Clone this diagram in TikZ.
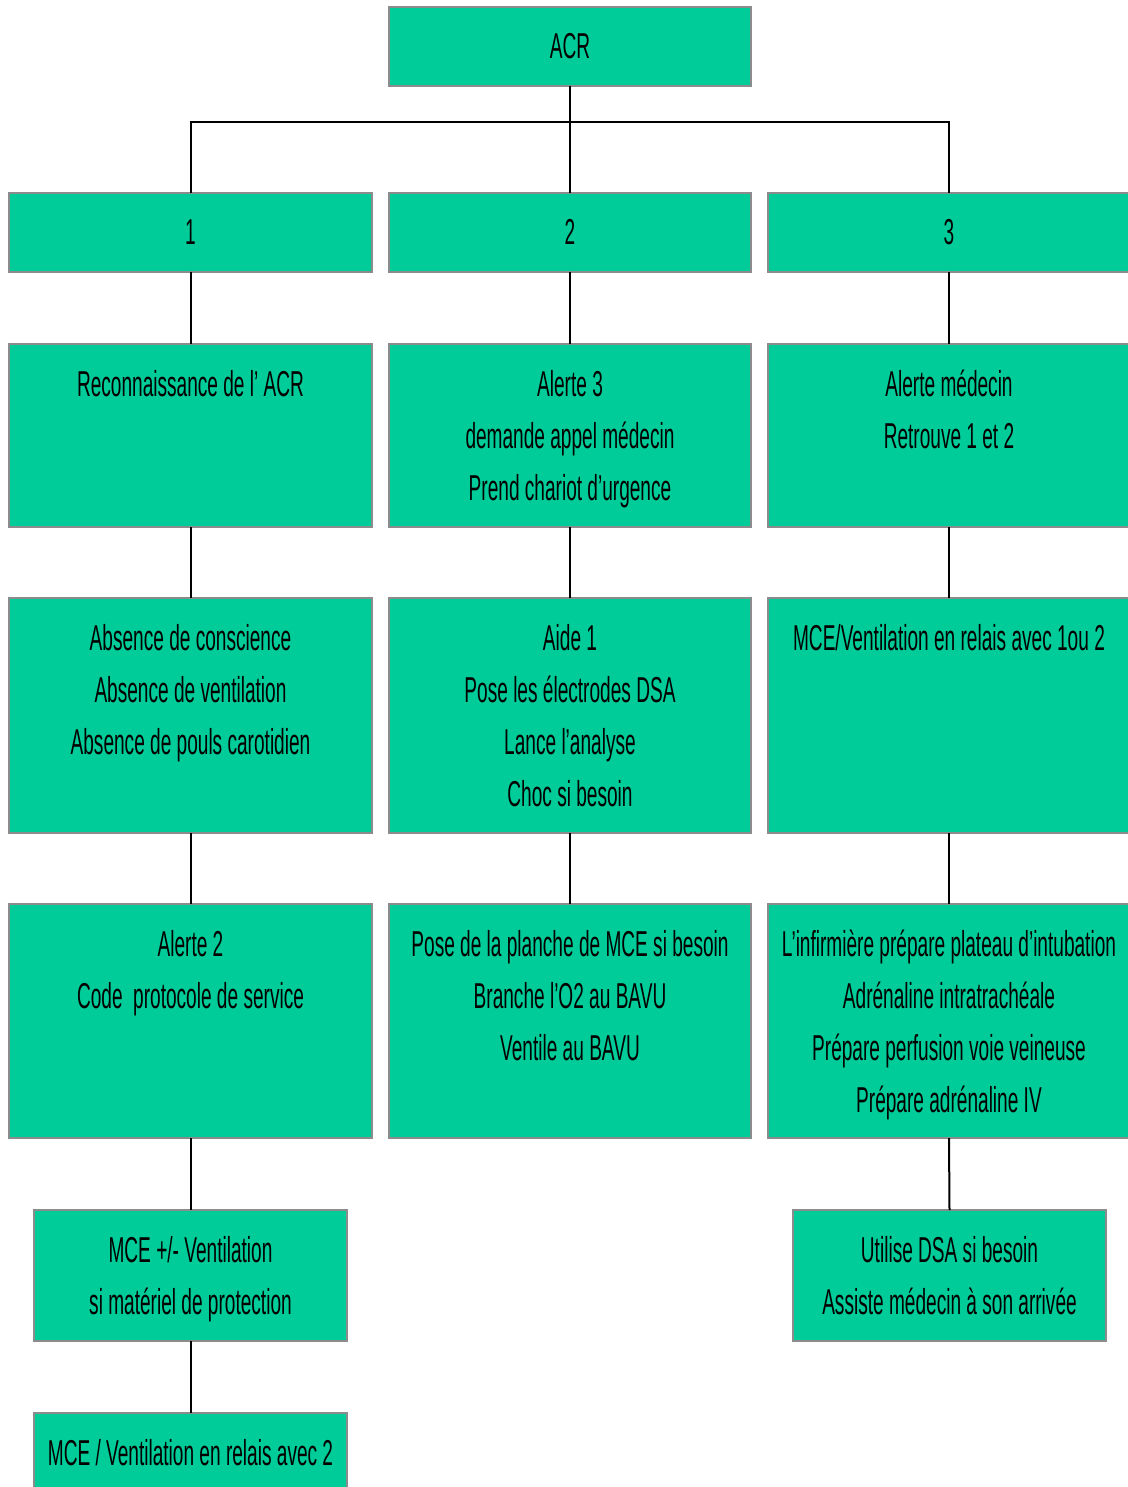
\documentclass[tikz,border=0pt]{standalone}
\usepackage{fontspec}
\setmainfont{Liberation Sans}[FakeStretch=0.53]
\definecolor{boxgreen}{RGB}{0,204,153}
\definecolor{boxedge}{RGB}{140,140,140}
\newcommand\mybox[6]{%
  \pgfmathsetmacro\bw{#4-#2}\pgfmathsetmacro\bh{#5-#3}%
  \node[boxstyle, anchor=north west] (#1) at (#2,-#3)
    {\parbox[b][\bh pt][t]{\bw pt}{\centering\fontsize{36pt}{52pt}\selectfont\rule{0pt}{52pt}#6\par}};}
\begin{document}
\begin{tikzpicture}[x=1pt,y=1pt,
  boxstyle/.style={draw=boxedge, line width=1.5pt, fill=boxgreen, inner sep=0pt, outer sep=0pt},
  link/.style={draw=black, line width=2pt}]
\useasboundingbox (0,0) rectangle (1127,-1487);
\mybox{acr}{389}{7}{751}{86}{ACR}
\mybox{b1}{9}{193}{372}{272}{1}
\mybox{b2}{389}{193}{751}{272}{2}
\mybox{b3}{768}{193}{1130}{272}{3}
\mybox{c1}{9}{344}{372}{527}{Reconnaissance de l' ACR}
\mybox{c2}{389}{344}{751}{527}{Alerte 3\\demande appel médecin\\Prend chariot d'urgence}
\mybox{c3}{768}{344}{1130}{527}{Alerte médecin\\Retrouve 1 et 2}
\mybox{d1}{9}{598}{372}{833}{Absence de conscience\\Absence de ventilation\\Absence de pouls carotidien}
\mybox{d2}{389}{598}{751}{833}{Aide 1\\Pose les électrodes DSA\\Lance l'analyse\\Choc si besoin}
\mybox{d3}{768}{598}{1130}{833}{MCE/Ventilation en relais avec 1ou 2}
\mybox{e1}{9}{904}{372}{1138}{Alerte 2\\Code\ \ protocole de service}
\mybox{e2}{389}{904}{751}{1138}{Pose de la planche de MCE si besoin\\Branche l'O2 au BAVU\\Ventile au BAVU}
\mybox{e3}{768}{904}{1130}{1138}{L'infirmière prépare plateau d'intubation\\Adrénaline intratrachéale\\Prépare perfusion voie veineuse\\Prépare adrénaline IV}
\mybox{f1}{34}{1210}{347}{1341}{MCE +/- Ventilation\\si matériel de protection}
\mybox{f3}{793}{1210}{1106}{1341}{Utilise DSA si besoin\\Assiste médecin à son arrivée}
\mybox{g1}{34}{1413}{347}{1490}{MCE / Ventilation en relais avec 2}
\coordinate (j) at (570,-122);
\draw[link] (acr.south) -- (b2.north);
\draw[link] (b1.north) |- (j) -| (b3.north);
\draw[link] (b1.south) -- (c1.north);
\draw[link] (b2.south) -- (c2.north);
\draw[link] (b3.south) -- (c3.north);
\draw[link] (c1.south) -- (d1.north);
\draw[link] (c2.south) -- (d2.north);
\draw[link] (c3.south) -- (d3.north);
\draw[link] (d1.south) -- (e1.north);
\draw[link] (d2.south) -- (e2.north);
\draw[link] (d3.south) -- (e3.north);
\draw[link] (e1.south) -- (f1.north);
\draw[link] (e3.south) -- (f3.north);
\draw[link] (f1.south) -- (g1.north);
\end{tikzpicture}
\end{document}
